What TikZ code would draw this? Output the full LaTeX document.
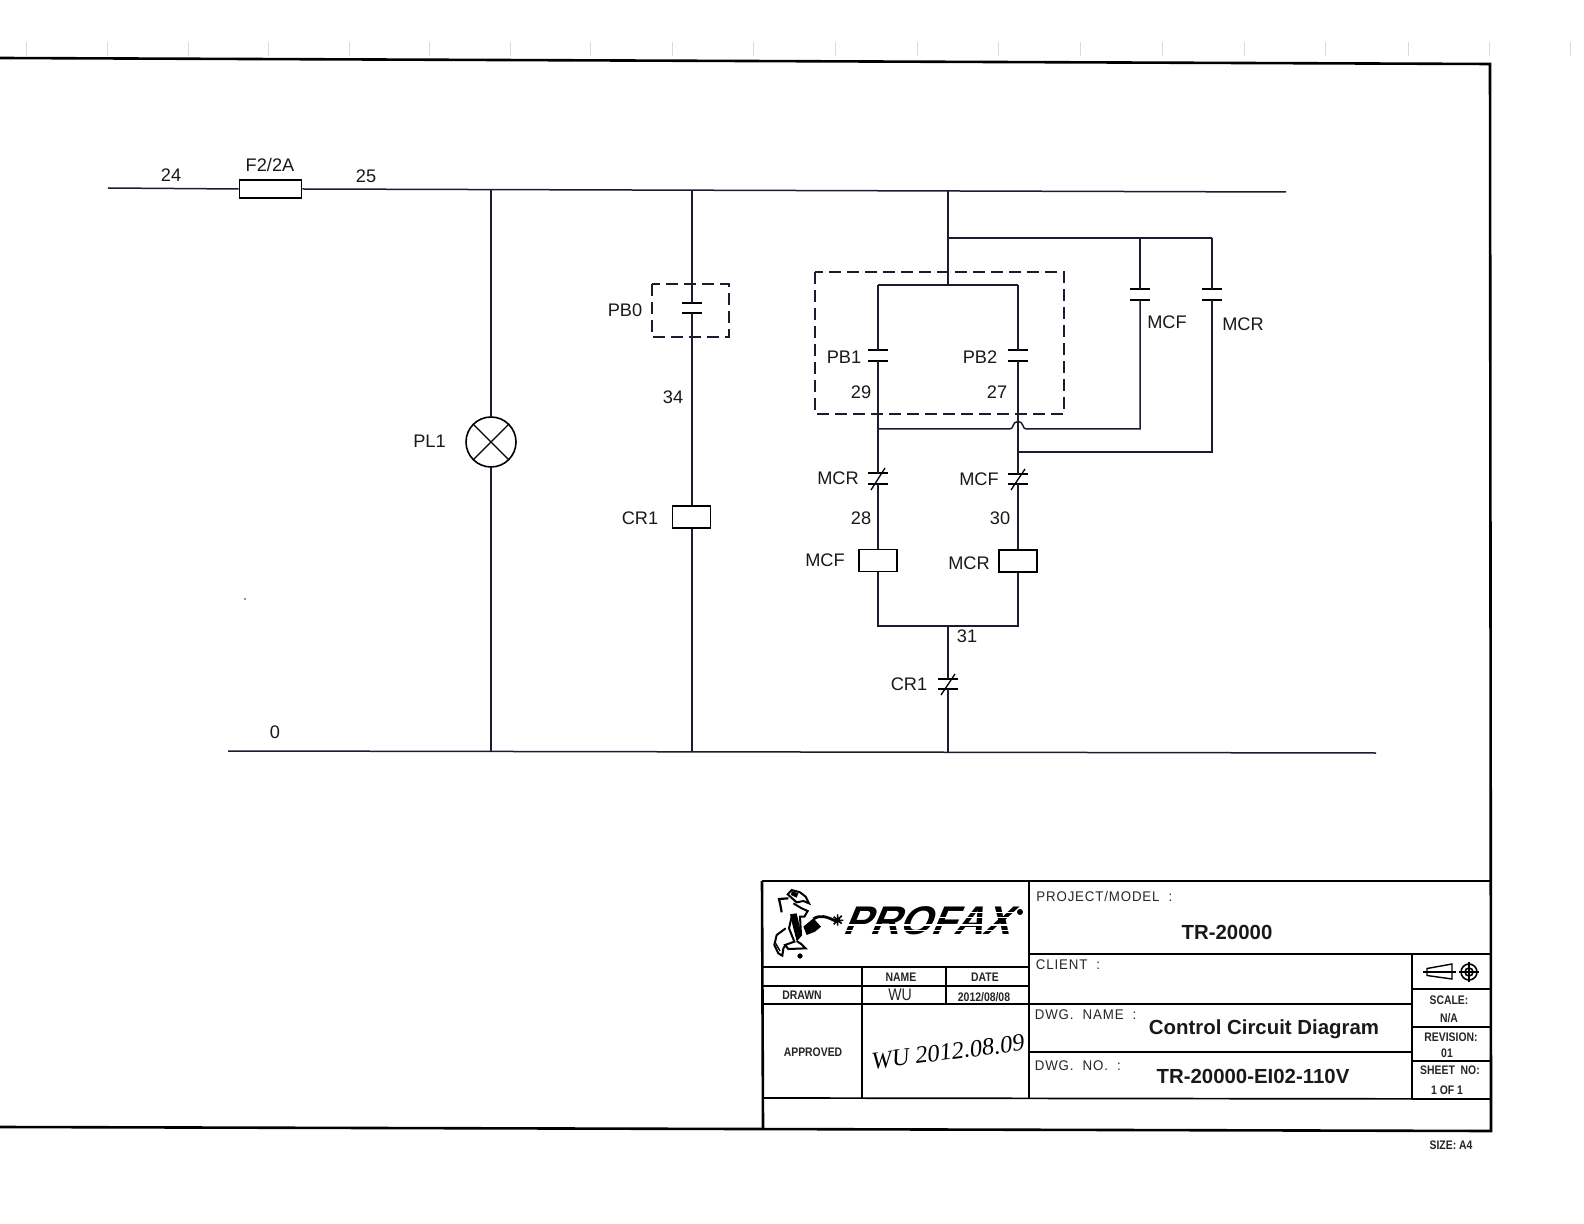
\documentclass[tikz,border=0pt]{standalone}
\usepackage{fontspec}
\setmainfont{Liberation Sans}
\newfontfamily\narrowf[FakeStretch=0.84,BoldFeatures={FakeStretch=0.84}]{Liberation Sans}
\newfontfamily\thinf[FakeStretch=0.95,LetterSpace=6]{Liberation Sans}
\newfontfamily\logof[BoldFeatures={FakeSlant=0.42,FakeStretch=1.02}]{Liberation Sans}
\newfontfamily\handf{Liberation Serif}
\definecolor{wire}{HTML}{1C1C30}
\tikzset{
  wireline/.style={draw=wire,line width=0.75pt},
  frameline/.style={draw=black,line width=1.3pt},
  cellline/.style={draw=black,line width=0.85pt},
  dashbox/.style={draw=wire,line width=0.85pt,dash pattern=on 6pt off 3pt},
  coilbox/.style={draw=black,fill=white,line width=0.8pt,rectangle,inner sep=0pt,minimum width=19pt,minimum height=10.8pt},
  fusebox/.style={draw=black,fill=white,line width=0.8pt,rectangle,inner sep=0pt,minimum width=31pt,minimum height=9pt},
  lampnode/.style={draw=black,fill=white,line width=0.8pt,circle,inner sep=0pt,minimum size=25pt},
  lab/.style={inner sep=0pt,font=\fontsize{9.1}{9.1}\selectfont,text=black!90},
  small/.style={inner sep=0pt,font=\narrowf\bfseries\fontsize{6.2}{6.2}\selectfont,text=black!85},
  thinlab/.style={inner sep=0pt,anchor=west,font=\thinf\fontsize{7}{7}\selectfont,text=black!85},
  boldlab/.style={inner sep=0pt,font=\bfseries\fontsize{10.2}{10.2}\selectfont,text=black!90},
  tick/.style={draw=black!14,line width=0.5pt},
  plate/.style={draw=black,line width=0.65pt},
}
\newcommand{\contactno}[4]{%
  \coordinate (#1-t) at (#2,#3);\coordinate (#1-b) at (#2,#4);
  \draw[plate] (#2-10,#3) -- (#2+10,#3) (#2-10,#4) -- (#2+10,#4);}
\newcommand{\contactnc}[4]{%
  \contactno{#1}{#2}{#3}{#4}
  \draw[plate] (#2+7,#3-5) -- (#2-7,#4+6);}
\begin{document}
\begin{tikzpicture}[x=0.5pt,y=-0.5pt]
\useasboundingbox (0,0) rectangle (1584,1224);
\fill[white] (0,0) rectangle (1584,1224);
% faint sheet ticks
\foreach \tx in {26,107,188,268,349,429,510,590,672,753,835,917,998,1080,1162,1244,1325,1408,1489,1570}
  \draw[tick] (\tx,42) -- (\tx,56);
\fill[black!55] (245,599) circle (1.2);
% sheet frame
\coordinate (ftl) at (0,58);\coordinate (ftr) at (1490,64);
\coordinate (fbr) at (1491,1131);\coordinate (fbl) at (0,1127);
\draw[frameline] (ftl) -- (ftr) -- (fbr) -- (fbl);
% top bus
\node[fusebox] (fuse) at (270.5,189) {};
\coordinate (busL) at (108,188);\coordinate (busR) at (1286,192);
\coordinate (j1) at (491,190.5);\coordinate (j2) at (692,191);\coordinate (j3) at (948,191);
\draw[wireline] (busL) -- (fuse.west) (fuse.east) -- (busR);
% bottom bus
\coordinate (botL) at (228,751);\coordinate (botR) at (1376,753);
\coordinate (k1) at (491,752);\coordinate (k2) at (692,752);\coordinate (k3) at (948,752);
\draw[wireline] (botL) -- (botR);
% lamp branch
\node[lampnode] (lamp) at (491,442) {};
\draw[wireline] (j1) -- (lamp.north) (lamp.south) -- (k1);
\draw[line width=0.7pt] (lamp.45) -- (lamp.225) (lamp.135) -- (lamp.315);
% PB0 branch
\contactno{pb0}{692}{303}{313}
\node[coilbox] (cr1) at (691.5,517) {};
\draw[wireline] (j2) -- (pb0-t) (pb0-b) -- (cr1.north -| pb0-b) (cr1.south -| pb0-b) -- (k2);
\draw[dashbox] (652,284) rectangle (729,337);
% main stem
\coordinate (top) at (948,285);\coordinate (tl) at (878,285);\coordinate (tr) at (1018,285);
\draw[wireline,line width=1pt] (j3) -- (top);
\draw[wireline] (tl) -- (tr);
% holding branches
\coordinate (h0) at (948,238);\coordinate (hf) at (1140,238);\coordinate (hr) at (1212,238);
\draw[wireline] (h0) -- (hr);
\contactno{mcfh}{1140}{289}{300}
\contactno{mcrh}{1212}{289}{300}
\draw[wireline] (hf) -- (mcfh-t) (hr) -- (mcrh-t);
% PB1/PB2
\contactno{pb1}{878}{350}{361}
\contactno{pb2}{1018}{350}{361}
\contactnc{ncl}{878}{473}{484}
\contactnc{ncr}{1018}{474}{484}
\node[coilbox] (mcfc) at (878,560.5) {};
\node[coilbox] (mcrc) at (1018,561) {};
\coordinate (bl) at (878,626);\coordinate (br) at (1018,626);\coordinate (bm) at (948,626);
\draw[wireline] (tl) -- (pb1-t) (pb1-b) -- (ncl-t) (ncl-b) -- (mcfc.north) (mcfc.south) -- (bl) -- (br) -- (mcrc.south);
\draw[wireline] (tr) -- (pb2-t) (pb2-b) -- (ncr-t) (ncr-b) -- (mcrc.north);
% feedback lines
\coordinate (f1) at (878,429);\coordinate (f2) at (1010,429);\coordinate (f3) at (1026,429);\coordinate (f4) at (1140,429);
\coordinate (fp) at (1018,421.5);
\draw[wireline] (f1) -- (f2) .. controls (1014,429) and (1012,421.5) .. (fp) .. controls (1024,421.5) and (1022,429) .. (f3) -- (f4) -- (mcfh-b);
\coordinate (g1) at (1018,452);\coordinate (g2) at (1212,452);
\draw[wireline] (g1) -- (g2) -- (mcrh-b);
% CR1 NC
\contactnc{ncc}{948}{679}{689}
\draw[wireline,line width=1pt] (bm) -- (ncc-t) (ncc-b) -- (k3);
\draw[dashbox] (815,272) rectangle (1064,414);
% labels
\node[lab] (l24) at (171,175) {24};
\node[lab] (lf) at (270,165) {F2/2A};
\node[lab] (l25) at (366,176) {25};
\node[lab] (lpl) at (429.5,441) {PL1};
\node[lab] (lpb0) at (625,310) {PB0};
\node[lab] (l34) at (673,397) {34};
\node[lab] (lcr) at (640,518) {CR1};
\node[lab] (l0) at (275,732) {0};
\node[lab] (lpb1) at (844,357) {PB1};
\node[lab] (lpb2) at (980,357) {PB2};
\node[lab] (l29) at (861,392) {29};
\node[lab] (l27) at (997,392) {27};
\node[lab] (lmh) at (1167,322) {MCF};
\node[lab] (lrh) at (1243,324) {MCR};
\node[lab] (lncr) at (838,478.5) {MCR};
\node[lab] (lncf) at (979,479.5) {MCF};
\node[lab] (l28) at (861,518) {28};
\node[lab] (l30) at (1000,518) {30};
\node[lab] (lcf) at (825,560) {MCF};
\node[lab] (lcr2) at (969,563) {MCR};
\node[lab] (l31) at (967,636) {31};
\node[lab] (lcrc) at (909,684) {CR1};
% title block
\coordinate (a0) at (762,881);\coordinate (a1) at (1490,881);
\draw[frameline] (a0) -- (a1);
\draw[frameline] (762,881) -- (763,1128);
\draw[cellline] (1029,881) -- (1029,1098);
\draw[cellline] (762,967) -- (1029,967) (762,986) -- (1029,986) (762,1004) -- (1029,1004);
\draw[cellline] (862,967) -- (862,1098) (946,967) -- (946,1004);
\draw[cellline] (763,1098) -- (1490,1099);
\draw[cellline] (1029,954) -- (1490,954);
\draw[cellline] (1029,1004) -- (1412,1004) (1029,1052) -- (1412,1052);
\draw[cellline] (1412,954) -- (1412,1099);
\draw[cellline] (1412,989) -- (1490,989) (1412,1027) -- (1490,1027) (1412,1061) -- (1490,1061);
% title block text
\node[small] (tname) at (901,977) {NAME};
\node[small] (tdate) at (985,977) {DATE};
\node[small] (tdrawn) at (802,995) {DRAWN};
\node[small,font=\narrowf\fontsize{8.4}{8.4}\selectfont] (twu) at (900,995) {WU};
\node[small] (td) at (984,997) {2012/08/08};
\node[small] (tapp) at (813,1052) {APPROVED};
\node[inner sep=0pt,rotate=7,font=\handf\itshape\fontsize{12.2}{12.2}\selectfont] (tsig) at (948,1052) {WU 2012.08.09};
\node[thinlab] (tpm) at (1036,896) {PROJECT/MODEL\ \ :};
\node[thinlab] (tcl) at (1035.5,965) {CLIENT\ \ :};
\node[thinlab] (tdn) at (1034.5,1015) {DWG.\ \ NAME\ \ :};
\node[thinlab] (tdg) at (1034.5,1066) {DWG.\ \ NO.\ \ :};
\node[boldlab] (tmodel) at (1227,932) {TR-20000};
\node[boldlab] (tccd) at (1264,1029) {Control Circuit Diagram};
\node[boldlab] (tno) at (1253,1076) {TR-20000-EI02-110V};
\node[small] (tsc) at (1449,1000) {SCALE:};
\node[small] (tna) at (1449,1018) {N/A};
\node[small] (trv) at (1451,1037) {REVISION:};
\node[small] (t01) at (1447,1053) {01};
\node[small] (tsh) at (1450,1070) {SHEET\ \ NO:};
\node[small] (t11) at (1447,1090) {1 OF 1};
\node[small] (tsz) at (1451,1145) {SIZE: A4};
% projection symbol
\draw[line width=0.7pt] (1427,968.5) -- (1452,964) -- (1452,979) -- (1427,975.5) -- cycle;
\draw[line width=0.7pt] (1423,972) -- (1456,972);
\draw[line width=0.8pt] (1469,972) circle (8);
\draw[line width=0.8pt] (1469,972) circle (4);
\draw[line width=0.6pt] (1459,972) -- (1479,972) (1469,962) -- (1469,982);
% logo text
\node[inner sep=0pt,font=\logof\bfseries\fontsize{20}{20}\selectfont] (logo) at (926,921) {PROFAX};
\draw[white,line width=0.55pt] (955,912.5) -- (1020,912.5);
\draw[white,line width=0.6pt] (935,917.5) -- (1020,917.5);
\draw[white,line width=0.6pt] (838,925) -- (1020,925);
\draw[white,line width=0.5pt] (838,930) -- (1020,930);
\fill (1020,912) circle (3);
\fill (800,956) circle (2.6);
% logo figure
\begin{scope}[shift={(382.5pt,-442.5pt)},x=0.1667pt,y=-0.1667pt]
\draw[line width=1pt,fill=white] (68,28) -- (80,15) -- (105,22) -- (122,35) -- (132,55) -- (115,48) -- (95,52) -- cycle;
\fill (80,18) -- (100,25) -- (95,38) -- (78,30) -- cycle;
\draw[line width=1.1pt] (70,40) -- (42,42) -- (46,60) -- (50,82);
\draw[line width=1pt] (85,55) -- (110,70) -- (128,78) -- (118,95) -- (105,95) -- (108,150) -- (95,165);
\fill (75,88) -- (95,85) -- (110,150) -- (95,168) -- (85,130) -- cycle;
\draw[line width=1pt] (80,95) -- (72,130) -- (88,170) -- (60,180) -- (70,192) -- (122,190) -- (110,178) -- (95,168);
\draw[line width=1pt] (62,130) -- (35,150) -- (28,180) -- (40,205) -- (52,212) -- (55,190) -- (62,180);
\draw[line width=0.7pt] (32,175) -- (45,198);
\fill (115,125) -- (145,100) -- (168,125) -- (150,140) -- (125,150) -- cycle;
\draw[line width=1.4pt] (145,102) .. controls (165,88) and (185,95) .. (212,108);
\fill (218,105) circle (7);
\draw[line width=0.8pt] (206,95) -- (230,116) (230,92) -- (206,118) (218,88) -- (218,122) (200,106) -- (235,106);
\fill (105,213) circle (7);
\end{scope}
\end{tikzpicture}
\end{document}
